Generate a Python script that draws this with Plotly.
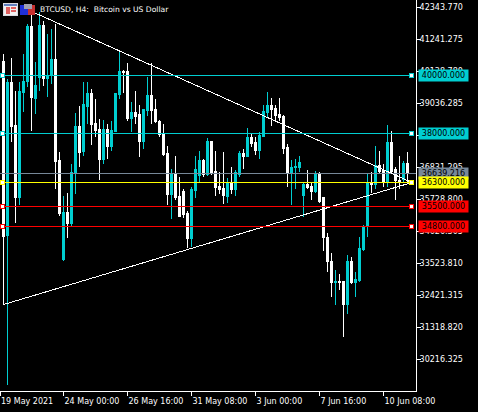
import plotly.graph_objects as go

FONT = "DejaVu Sans, Liberation Sans, sans-serif"
CYAN = "#00CED1"

opens = [40483,34488,39760,38278,35797,39415,39794,41689,39208,39932,41724,39898,40001,40552,37072,33661,35280,34902,36659,38244,
         37382,38933,39381,38347,38140,37106,38140,37554,38071,39346,40139,40139,38519,38726,38657,37727,38795,39312,38830,38416,
         37968,37313,35901,36590,35832,36004,35246,34385,36038,36555,37072,36590,37727,36693,36176,36107,35832,36280,36073,36590,
         37313,37210,37864,37692,37417,37899,38726,38967,38864,38657,38588,37520,36659,36831,36831,35866,36245,36176,36004,36590,
         35797,34419,33592,32869,32903,32903,32111,33592,32869,32938,34006,34833,36280,36245,36900,36727,36314,37692,36762,36383,
         36417,36969]
highs = [40724,39863,40587,39449,39760,40724,41758,42206,40449,42171,41861,41414,41586,41758,37348,35832,35969,36934,38692,38933,
         39760,39760,39518,39174,38485,38451,38313,38416,39381,40828,40173,40414,39071,39449,38967,38830,39932,40414,39174,38451,
         38313,37554,36762,37210,36486,36107,35349,36176,37210,37382,37106,37830,37727,37382,36659,37348,36452,36831,36727,37382,
         37451,38175,38002,37864,38037,38967,39415,39208,38967,39208,38623,37623,37072,37106,37210,36314,36727,36314,36693,36659,
         35797,34592,33903,33317,33179,32938,33834,33765,33248,34454,34867,36590,36659,37554,37382,36934,38278,38071,36831,37210,
         37038,37348]
lows = [32111,29355,37692,34936,35556,38726,39587,38071,38657,39449,39622,39243,39691,36107,35177,33627,34419,34833,35901,36831,
        37210,38313,37589,37864,36417,36934,37106,37382,38037,39174,39381,38416,38037,38313,37175,37451,38588,38313,38347,37864,
        37210,35556,35074,35728,35143,35108,34075,34109,35763,36280,36486,36521,36555,35866,35901,35590,35625,35901,35866,36486,
        36762,37175,37520,37244,37106,37899,38519,38244,38382,38416,37279,36176,35522,36107,36659,35143,36073,35728,35969,35625,
        33972,33248,32387,32111,32628,31009,31801,32834,32387,32903,33972,34454,35969,36073,36590,36176,36176,36590,35728,36073,
        36314,36348]
closes = [34454,39760,38244,35797,39449,39794,41689,39243,39656,41724,39898,40001,40552,37038,35246,35280,34902,36659,38244,37348,
          39002,39381,38313,38106,37106,38140,37554,38106,39381,40139,40104,38519,38726,38588,37727,38830,39312,38795,38416,37968,
          37279,35901,36590,35797,35143,35212,34385,36073,36762,37072,36590,37727,36659,36142,36073,35866,36280,36073,36659,37313,
          37210,37864,37658,37417,37933,38761,38967,38830,38623,38554,37485,36659,36831,36865,37003,36245,36142,36004,36590,35659,
          34419,33592,32869,32903,32869,32111,33592,32869,32972,34041,34798,36280,36245,36900,36693,36314,37692,36693,36383,36314,
          36969,36639]

tick_positions = [-0.875, 15, 31, 47, 63, 79, 95]
tick_labels = ["19 May 2021", "24 May 00:00", "26 May 16:00", "31 May 08:00", "3 Jun 00:00", "7 Jun 16:00", "10 Jun 08:00"]
price_ticks = [42343.770, 41241.275, 40138.780, 39036.285, 37933.790, 36831.295, 35728.800, 34626.305, 33523.810, 32421.315, 31318.820, 30216.325]

level_values = [40000, 38000, 36300, 35500, 34800]
level_colors = [CYAN, CYAN, "#FFFF00", "#FF0000", "#FF0000"]
last_price = 36639.216
level_x = [-0.25, 102.1]
upper_x, upper_y = [7, 102.1], [42206, 36314]
lower_x, lower_y = [0, 102.1], [32111, 36314]
x_range = [-0.875, 103.125]
y_range = [29135, 42597]

fig = go.Figure()
fig.add_trace(go.Candlestick(
    x=list(range(len(opens))), open=opens, high=highs, low=lows, close=closes,
    whiskerwidth=0,
    increasing=dict(line=dict(color=CYAN, width=1), fillcolor=CYAN),
    decreasing=dict(line=dict(color="#FFFFFF", width=1), fillcolor="#FFFFFF"),
    showlegend=False, hoverinfo="skip"))

fig.add_trace(go.Scatter(x=x_range, y=[last_price, last_price], mode="lines",
                         line=dict(color="#778899", width=1), showlegend=False, hoverinfo="skip"))
for xs, ys in ((upper_x, upper_y), (lower_x, lower_y)):
    fig.add_trace(go.Scatter(x=xs, y=ys, mode="lines", line=dict(color="#FFFFFF", width=1),
                             showlegend=False, hoverinfo="skip"))
for v, c in zip(level_values, level_colors):
    fig.add_trace(go.Scatter(x=level_x, y=[v, v], mode="lines+markers",
                             line=dict(color=c, width=1),
                             marker=dict(symbol="square", size=4, color="#FFFFFF", line=dict(color=c, width=1)),
                             showlegend=False, hoverinfo="skip"))

annotations = []
def tag(value, color, text):
    annotations.append(dict(x=1, xref="paper", xshift=2, xanchor="left", y=value, yref="y", yanchor="middle",
                            text=text, showarrow=False, bgcolor=color, borderpad=0, width=49, height=11,
                            align="center", font=dict(family=FONT, size=8, color="#000000")))
tag(last_price, "#778899", "36639.216")
for v, c in zip(level_values, level_colors):
    tag(v, c, f"{v:.3f}")

W, H = 416.0, 391.0
def box(x0, y0, x1, y1, color):
    return dict(type="rect", xref="paper", yref="paper", x0=x0/W, x1=x1/W, y0=1-y0/H, y1=1-y1/H,
                fillcolor=color, line=dict(width=0), layer="above")
shapes = [
    box(3, 3, 18, 16, "#D8D8E0"), box(4, 6, 17, 15, "#F0F0F0"), box(6, 7, 10, 14, "#E06060"),
    box(11, 7, 16, 9, "#E06060"), box(11, 10, 16, 12, "#E06060"), box(4, 4, 17, 6, "#6080C0"),
    box(20, 5, 28, 15, "#2030D8"), box(28, 5, 35, 15, "#C83030"), box(24, 4, 32, 9, "#A0A0B0"),
]

fig.update_layout(
    width=478, height=412, margin=dict(l=0, r=62, t=0, b=21, autoexpand=False),
    paper_bgcolor="#000000", plot_bgcolor="#000000",
    font=dict(family=FONT, size=8, color="#FFFFFF"),
    title=dict(text="BTCUSD, H4:  Bitcoin vs US Dollar", x=40/478, xanchor="left", xref="container",
               y=1-9/412, yanchor="middle", yref="container", font=dict(family=FONT, size=7.6, color="#FFFFFF")),
    xaxis=dict(range=x_range, rangeslider=dict(visible=False), showgrid=False, zeroline=False,
               tickmode="array", tickvals=tick_positions, ticktext=tick_labels,
               ticks="outside", ticklen=4, tickwidth=1, tickcolor="#FFFFFF",
               ticklabelposition="outside right", ticklabelstandoff=2, showline=True, linecolor="#FFFFFF", linewidth=1,
               tickangle=0, tickfont=dict(family=FONT, size=8, color="#FFFFFF")),
    yaxis=dict(range=y_range, side="right", showgrid=False, zeroline=False,
               tickmode="array", tickvals=price_ticks, ticktext=[f"{p:.3f}" for p in price_ticks],
               ticks="outside", ticklen=4, tickwidth=1, tickcolor="#FFFFFF", ticklabelstandoff=-3,
               showline=True, linecolor="#FFFFFF", linewidth=1,
               tickfont=dict(family=FONT, size=8, color="#FFFFFF")),
    annotations=annotations, shapes=shapes, showlegend=False, boxgap=0.5,
)
POST = ("document.documentElement.style.margin='0';document.body.style.margin='0';"
        "document.body.style.background='#000';document.body.style.overflow='hidden';"
        "var s=document.createElement('style');s.textContent='.main-svg path{shape-rendering:crispEdges !important}';"
        "document.head.appendChild(s);")
fig.write_html("out.html", post_script=POST, config={"displayModeBar": False})
